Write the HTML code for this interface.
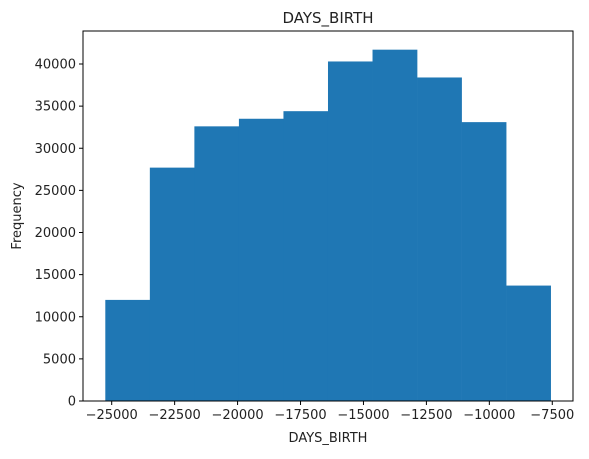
<!DOCTYPE html>
<html><head><meta charset="utf-8"><style>
body{margin:0;background:#fff;}
svg text{font-family:"DejaVu Sans","Liberation Sans",sans-serif;fill:#222;}
</style></head><body>
<svg id="chart" width="589" height="454" xmlns="http://www.w3.org/2000/svg">
<g id="bars"></g>
<g id="axes"></g>
<text x="328" y="23" font-size="15" text-anchor="middle">DAYS_BIRTH</text>
<text x="328" y="442" font-size="13" text-anchor="middle">DAYS_BIRTH</text>
<text transform="translate(21,216) rotate(-90)" font-size="13" text-anchor="middle">Frequency</text>
</svg>
<script>
const binMin = -25254;
const binMax = -7564;
const counts = [12000, 27700, 32600, 33500, 34400, 40300, 41700, 38400, 33100, 13700];
const xTicks = [-25000, -22500, -20000, -17500, -15000, -12500, -10000, -7500];
const xTickLabels = ["\u221225000","\u221222500","\u221220000","\u221217500","\u221215000","\u221212500","\u221210000","\u22127500"];
const yTicks = [0, 5000, 10000, 15000, 20000, 25000, 30000, 35000, 40000];

const NS = "http://www.w3.org/2000/svg";
const L = 83, R = 573, T = 31, B = 401;
function xs(v){ return 111.7 + (v + 25000) * 62.94 / 2500; }
function ys(v){ return B - v * 337 / 40000; }
function mk(tag, attrs, parent){
  const e = document.createElementNS(NS, tag);
  for (const k in attrs) e.setAttribute(k, attrs[k]);
  parent.appendChild(e); return e;
}
const bars = document.getElementById('bars');
const axes = document.getElementById('axes');
const n = counts.length, w = (binMax - binMin) / n;
counts.forEach((c, i) => {
  const x0 = xs(binMin + i * w), x1 = xs(binMin + (i + 1) * w);
  const r = mk('rect', {x: x0, y: ys(c), width: x1 - x0 + 0.3, height: B - ys(c), fill: '#1f77b4'}, bars);
  
  
});
const frame = mk('rect', {x: L, y: T, width: R - L, height: B - T, fill: 'none', stroke: '#000', 'stroke-width': 1}, axes);


xTicks.forEach((v, i) => {
  const x = xs(v);
  mk('line', {x1: x, x2: x, y1: B, y2: B + 4, stroke: '#000'}, axes);
  const t = mk('text', {x: x, y: B + 18, 'font-size': 13, 'text-anchor': 'middle'}, axes);
  t.textContent = xTickLabels[i];
  
  
});
yTicks.forEach(v => {
  const y = ys(v);
  mk('line', {x1: L - 4, x2: L, y1: y, y2: y, stroke: '#000'}, axes);
  const t = mk('text', {x: L - 7, y: y + 4.5, 'font-size': 13, 'text-anchor': 'end'}, axes);
  t.textContent = String(v);
  
  
});
</script>
</body></html>
